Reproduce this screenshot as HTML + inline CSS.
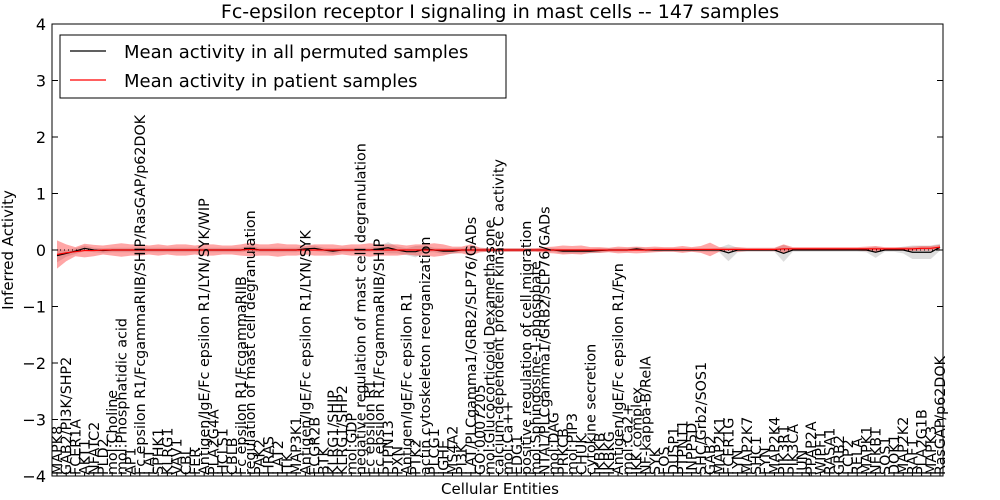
<!DOCTYPE html>
<html><head><meta charset="utf-8"><style>
body{margin:0;background:#fff;}
svg{display:block;font-family:"DejaVu Sans","Liberation Sans",sans-serif;}
</style></head><body>
<svg id="chart" width="1000" height="500">
<text x="500" y="18" text-anchor="middle" font-size="19">Fc-epsilon receptor I signaling in mast cells -- 147 samples</text>
<text transform="translate(13,250) rotate(-90)" text-anchor="middle" font-size="15">Inferred Activity</text>
<text x="500" y="494" text-anchor="middle" font-size="15">Cellular Entities</text>
<g id="plot"></g>
<rect x="52" y="24" width="891" height="452" fill="none" stroke="#000" stroke-width="1"/>
<g>
<rect x="60" y="35" width="446" height="63" fill="#fff" stroke="#000"/>
<line x1="70" y1="51" x2="106" y2="51" stroke="#000" stroke-width="1.2"/>
<text x="124" y="58" font-size="18">Mean activity in all permuted samples</text>
<line x1="70" y1="80" x2="106" y2="80" stroke="#f00" stroke-width="1.2"/>
<text x="124" y="87" font-size="18">Mean activity in patient samples</text>
</g>
</svg>
<script>
const categories=["MAPK8","GAB2/PI3K/SHP2","FCER1A","AKT1","NFATC2","PLD2","mol:Choline","mol:Phosphatidic acid","AP1","Fc epsilon R1/FcgammaRIIB/SHIP/RasGAP/p62DOK","LAT","SPHK1","KLRG1","VAV1","CBL","FER","Antigen/IgE/Fc epsilon R1/LYN/SYK/WIP","PLA2G4A","HCLS1","CBLB","Fc epsilon R1/FcgammaRIIB","regulation of mast cell degranulation","PAK2","HRAS","LAT2","ITK","MAP3K1","Antigen/IgE/Fc epsilon R1/LYN/SYK","FCGR2B","BTK","KLRG1/SHIP","KLRG1/SHP2","mol:GDP","negative regulation of mast cell degranulation","Fc epsilon R1","Fc epsilon R1/FcgammaRIIB/SHIP","PTPN13","PXN","Antigen/IgE/Fc epsilon R1","PTK2","actin cytoskeleton reorganization","PLCG1","IGHE","MS4A2","PI3K","LAT/PLCgamma1/GRB2/SLP76/GADs","GO:0007205","mol:Glucocorticoid Dexamethasone","calcium-dependent protein kinase C activity","mol:Ca++","EDG1","positive regulation of cell migration","mol:Sphingosine-1-phosphate","NTAL/PLCgamma1/GRB2/SLP76/GADs","mol:DAG","PRKCB","mol:PIP3","CHUK","cytokine secretion","IKBKB","IKBKG","Antigen/IgE/Fc epsilon R1/Fyn","mol:Ca2+","IKK complex","NF-kappa-B/RelA","SYK","FOS","DUSP1","PTPN11","INPP5D","SHC/Grb2/SOS1","GAB2","MAP2K1","FCER1G","LYN","MAP2K7","SHC1","FYN","MAP2K4","PIK3R1","PIK3CA","JUN","PPAP2A","WIPF1","RASA1","GRB2","LCP2","RELA","MAPK1","NFKB1","SOS1","DOK1","MAP2K2","RAF1","PLA2G1B","MAPK3","RasGAP/p62DOK"];
const permMean=[-0.1,-0.06,-0.02,0.03,0,-0.01,0,0,0,0, 0,0,0,0,0,0,0,0,0,0, 0,0.03,0,0,0,0,0,0.02,0.03,0, -0.02,0,0,0,0,0.02,0.04,0,-0.03,-0.03, 0.02,0,-0.02,-0.02,0,0,0,0,0,0, 0,0,0,0,0,-0.02,-0.02,-0.02,-0.02,-0.01, 0,0,0,0.02,0,0,0,0,0,0, 0,0,0,-0.05,0,0,0,0,0,-0.06, 0,0,0,0,0,0,0,0,0,-0.04, 0,0,0,-0.04,-0.04,-0.04,0.05];
const permBand=[0.12,0.06,0.05,0.05,0.04,0.04,0.04,0.04,0.04,0.05, 0.04,0.04,0.04,0.04,0.04,0.04,0.04,0.04,0.04,0.04, 0.04,0.05,0.04,0.04,0.04,0.04,0.04,0.04,0.05,0.04, 0.05,0.04,0.04,0.04,0.04,0.05,0.1,0.06,0.06,0.1, 0.06,0.04,0.05,0.05,0.04,0.04,0.04,0.03,0.03,0.03, 0.03,0.03,0.03,0.03,0.03,0.04,0.04,0.04,0.04,0.04, 0.03,0.03,0.03,0.03,0.03,0.03,0.03,0.03,0.03,0.03, 0.03,0.03,0.04,0.15,0.04,0.03,0.03,0.03,0.03,0.15, 0.03,0.03,0.03,0.03,0.03,0.03,0.03,0.03,0.04,0.1, 0.03,0.03,0.06,0.12,0.12,0.12,0.06];
const patMean=[-0.08,-0.05,-0.03,-0.01,-0.01,0,0,0,0,0, 0,0,0,0,0,0,0,0,0,0, 0,0.01,0,0,0,0,0,0,0,0, 0,0,0,0,0,0,0,0,0,0, 0,0,0,0,0,0,0,0,0,0, 0,0,0,0,0,0,0,0,0,0, 0,0,0,0,0,0.01,0.01,0.01,0.01,0.01, 0.01,0.01,0.01,0.01,0.01,0.01,0.01,0.01,0.01,0.02, 0.02,0.02,0.02,0.02,0.02,0.02,0.02,0.02,0.02,0.02, 0.02,0.02,0.02,0.02,0.03,0.03,0.05];
const patBand=[0.25,0.15,0.08,0.12,0.1,0.08,0.1,0.12,0.1,0.1, 0.08,0.1,0.08,0.1,0.1,0.08,0.1,0.1,0.08,0.08, 0.1,0.12,0.1,0.1,0.12,0.1,0.1,0.08,0.1,0.1, 0.1,0.08,0.1,0.1,0.12,0.1,0.1,0.1,0.08,0.1, 0.1,0.12,0.1,0.06,0.06,0.1,0.04,0.03,0.03,0.03, 0.03,0.03,0.03,0.05,0.06,0.08,0.07,0.08,0.05,0.05, 0.04,0.06,0.05,0.06,0.05,0.05,0.04,0.04,0.06,0.04, 0.06,0.12,0.04,0.03,0.04,0.03,0.03,0.03,0.03,0.08, 0.03,0.03,0.03,0.03,0.03,0.03,0.03,0.03,0.04,0.05, 0.03,0.03,0.03,0.04,0.04,0.04,0.04];
const yTicks=[4,3,2,1,0,-1,-2,-3,-4];
const NS="http://www.w3.org/2000/svg";
const svg=document.getElementById('chart');
const plot=document.getElementById('plot');
const x=i=>57+i*(883/(categories.length-1));
const y=v=>250-v*56.5;
function mk(tag,attrs,parent){const e=document.createElementNS(NS,tag);for(const k in attrs)e.setAttribute(k,attrs[k]);(parent||plot).appendChild(e);return e;}
function band(mean,bw){let top=mean.map((m,i)=>x(i)+','+y(m+bw[i]));let bot=mean.map((m,i)=>x(i)+','+y(m-bw[i])).reverse();return top.concat(bot).join(' ');}
const g1=mk('polygon',{points:band(permMean,permBand),fill:'#aaa','fill-opacity':'0.4',stroke:'none'});


const g2=mk('polygon',{points:band(patMean,patBand),fill:'#f00','fill-opacity':'0.35',stroke:'none'});


const zl=mk('line',{x1:52,x2:943,y1:y(0),y2:y(0),stroke:'#000','stroke-dasharray':'1,3','stroke-width':1});


const l1=mk('polyline',{points:permMean.map((m,i)=>x(i)+','+y(m)).join(' '),fill:'none',stroke:'#000','stroke-width':1.2});


const l2=mk('polyline',{points:patMean.map((m,i)=>x(i)+','+y(m)).join(' '),fill:'none',stroke:'#f00','stroke-width':1.2});


yTicks.forEach(t=>{
 const tl=mk('line',{x1:52,x2:58,y1:y(t),y2:y(t),stroke:'#000'},svg);
 
 
 const tr=mk('line',{x1:937,x2:943,y1:y(t),y2:y(t),stroke:'#000'},svg);
 
 
 const tx=mk('text',{x:46,y:y(t)+6,'text-anchor':'end','font-size':16},svg);
 tx.textContent=(t<0?'\u2212'+(-t):String(t));
 
 
});
categories.forEach((c,i)=>{
 const tk=mk('line',{x1:x(i),x2:x(i),y1:476,y2:472,stroke:'#000'},svg);
 
 
 const t=mk('text',{transform:`translate(${x(i)+5},475) rotate(-90)`,'font-size':14.3},svg);
 t.textContent=c;
 
 
});
</script>
</body></html>
